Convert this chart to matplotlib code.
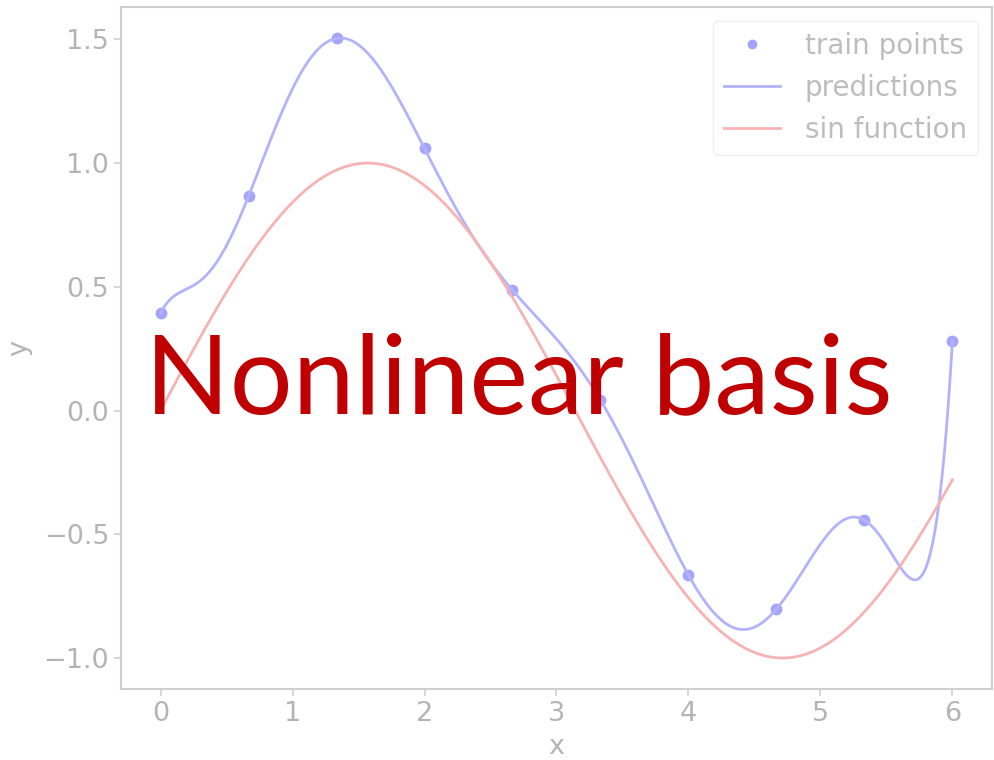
import numpy as np
import matplotlib
matplotlib.use("Agg")
import matplotlib.pyplot as plt

# Training samples (noisy sine) on an even grid
x_train = np.linspace(0, 6, 10)
y_train = [0.393, 0.866, 1.504, 1.059, 0.486, 0.042, -0.665, -0.802, -0.443, 0.281]

# Polynomial basis model fitted to the samples
degree = 9
coef = np.polyfit(x_train, y_train, degree)
x_grid = np.linspace(0, 6, 400)
y_pred = np.polyval(coef, x_grid)
y_sin = np.sin(x_grid)

TICK_GREY = "#b4b4b4"
LEGEND_GREY = "#bdbdbd"
SPINE_GREY = "#cfcfcf"

fig = plt.figure(figsize=(9.94, 7.6), dpi=100)
ax = fig.add_axes([0.1217, 0.0934, 0.8763, 0.8974])

ax.plot(x_train, y_train, "o", color="#a4a4fb", markersize=7.5, label="train points")
ax.plot(x_grid, y_pred, color="#b3b3fb", lw=2.0, label="predictions")
ax.plot(x_grid, y_sin, color="#f7b3b3", lw=2.0, label="sin function")

ax.set_xticks([0, 1, 2, 3, 4, 5, 6])
ax.set_yticks([-1.0, -0.5, 0.0, 0.5, 1.0, 1.5])
ax.tick_params(colors=SPINE_GREY, labelcolor=TICK_GREY, labelsize=19.5, length=5, width=1.2)
for s in ax.spines.values():
    s.set_color(SPINE_GREY)
    s.set_linewidth(1.5)

ax.set_xlabel("x", color=TICK_GREY, fontsize=19.5, labelpad=5)
ax.set_ylabel("y", color=TICK_GREY, fontsize=19.5, labelpad=8)

leg = ax.legend(loc="upper right", fontsize=20, frameon=True, handlelength=2.0,
                borderaxespad=0.5, labelspacing=0.5, handletextpad=0.9, markerscale=0.8,
                borderpad=0.4)
leg.get_frame().set_edgecolor("#f0f0f0")
leg.get_frame().set_alpha(1.0)
for t in leg.get_texts():
    t.set_color(LEGEND_GREY)

# Large red caption across the middle of the plot
title = fig.text(145 / 994, 1 - 413 / 760, "Nonlinear basis", color="#c00000",
                 fontsize=90, family=["Lato", "DejaVu Sans"], ha="left", va="baseline")
fig.canvas.draw()
w = title.get_window_extent().width
title.set_fontsize(90 * 748 / w)

fig.savefig("out.png", dpi=100)
